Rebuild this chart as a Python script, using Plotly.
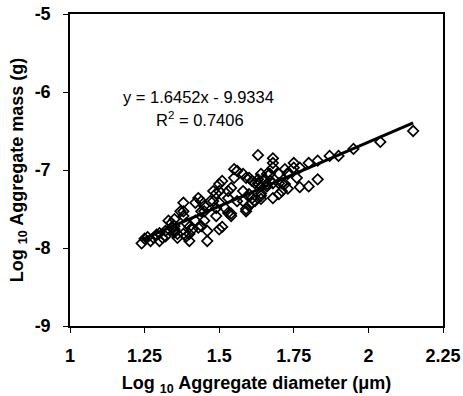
import plotly.graph_objects as go
import numpy as np

diameter_log = [1.24,1.25,1.26,1.27,1.28,1.29,1.30,1.30,1.31,1.32,1.32,1.33,1.34,1.34,1.35,1.35,1.35,1.35,1.36,1.36,
 1.37,1.38,1.38,1.38,1.38,1.39,1.39,1.40,1.40,1.40,1.41,1.42,1.42,1.43,1.43,1.44,1.44,1.44,1.45,1.45,
 1.45,1.46,1.46,1.47,1.48,1.48,1.49,1.49,1.49,1.50,1.50,1.50,1.50,1.51,1.51,1.52,1.53,1.53,1.53,1.54,
 1.54,1.54,1.55,1.55,1.56,1.56,1.58,1.58,1.58,1.59,1.59,1.59,1.60,1.60,1.60,1.61,1.61,1.61,1.62,1.62,
 1.63,1.63,1.63,1.64,1.64,1.64,1.64,1.64,1.65,1.66,1.66,1.66,1.67,1.67,1.68,1.68,1.68,1.68,1.68,1.70,
 1.70,1.70,1.71,1.71,1.72,1.72,1.73,1.73,1.73,1.75,1.75,1.76,1.77,1.77,1.80,1.80,1.83,1.83,1.87,1.90,
 1.95,2.04,2.15]
mass_log = [-7.94,-7.88,-7.86,-7.91,-7.87,-7.83,-7.91,-7.81,-7.87,-7.85,-7.78,-7.65,-7.74,-7.68,-7.80,-7.63,-7.72,-7.76,-7.82,-7.87,
 -7.53,-7.42,-7.53,-7.82,-7.59,-7.68,-7.85,-7.82,-7.91,-7.73,-7.76,-7.65,-7.42,-7.74,-7.36,-7.53,-7.40,-7.72,-7.46,-7.53,
 -7.65,-7.78,-7.91,-7.40,-7.27,-7.40,-7.30,-7.49,-7.59,-7.18,-7.76,-7.27,-7.42,-7.14,-7.73,-7.49,-7.27,-7.55,-7.36,-7.23,
 -7.59,-7.56,-7.10,-6.99,-7.01,-7.40,-7.05,-7.27,-7.40,-7.10,-7.53,-7.50,-7.31,-7.10,-7.46,-7.36,-7.42,-7.14,-7.17,-7.40,
 -7.17,-6.81,-7.12,-7.30,-7.33,-7.37,-7.05,-7.21,-7.12,-7.05,-7.18,-7.21,-7.05,-7.14,-6.85,-6.91,-6.97,-7.17,-7.36,-7.31,
 -7.05,-7.17,-7.27,-7.17,-6.99,-7.18,-7.05,-7.04,-7.24,-6.91,-6.97,-7.10,-6.97,-7.22,-6.91,-7.21,-7.12,-6.88,-6.82,-6.82,
 -6.73,-6.64,-6.50]

slope = 1.6452
intercept = -9.9334
r_squared = 0.7406

x_ticks = [1, 1.25, 1.5, 1.75, 2, 2.25]
x_tick_labels = ["1", "1.25", "1.5", "1.75", "2", "2.25"]
y_ticks = [-9, -8, -7, -6, -5]
y_tick_labels = ["-9", "-8", "-7", "-6", "-5"]

fit_x = np.array([min(diameter_log), max(diameter_log)])
fit_y = slope * fit_x + intercept

FONT = "Liberation Sans, Arial, sans-serif"

fig = go.Figure()
fig.add_trace(go.Scatter(
    x=diameter_log, y=mass_log, mode="markers",
    marker=dict(symbol="diamond-open", size=8, color="black", line=dict(width=1.7, color="black")),
    showlegend=False, cliponaxis=False))
fig.add_trace(go.Scatter(
    x=fit_x, y=fit_y, mode="lines",
    line=dict(color="black", width=3), showlegend=False))

fig.add_annotation(x=1.43, y=-6.07, xref="x", yref="y",
                   text=f"y = {slope}x - {abs(intercept)}", showarrow=False,
                   font=dict(family=FONT, size=16.5, color="black"))
fig.add_annotation(x=1.435, y=-6.35, xref="x", yref="y",
                   text=f"R<sup>2</sup> = {r_squared}", showarrow=False,
                   font=dict(family=FONT, size=16.5, color="black"))

fig.update_layout(
    width=463, height=396,
    margin=dict(l=70, r=20, t=14, b=70, autoexpand=False),
    paper_bgcolor="white", plot_bgcolor="white",
    font=dict(family=FONT, color="black"),
)
fig.update_xaxes(
    range=[1, 2.25], tickvals=x_ticks, ticktext=x_tick_labels,
    showgrid=False, zeroline=False, automargin=False,
    showline=True, linecolor="black", linewidth=1.5, mirror=True,
    ticks="outside", ticklen=5, tickwidth=1, tickcolor="black",
    tickfont=dict(family=FONT, size=18, weight="bold"),
    ticklabelstandoff=8,
    title=dict(text="Log <sub>10</sub> Aggregate diameter (μm)",
               font=dict(family=FONT, size=18, weight="bold"), standoff=16),
)
fig.update_yaxes(
    range=[-9, -5], tickvals=y_ticks, ticktext=y_tick_labels,
    showgrid=False, zeroline=False, automargin=False,
    showline=True, linecolor="black", linewidth=1.5, mirror=True,
    ticks="outside", ticklen=5, tickwidth=1, tickcolor="black",
    tickfont=dict(family=FONT, size=18, weight="bold"),
    ticklabelstandoff=9,
    title=dict(text="Log <sub>10</sub> Aggregate mass (g)",
               font=dict(family=FONT, size=18, weight="bold"), standoff=6),
)

fig.write_html("out.html")
